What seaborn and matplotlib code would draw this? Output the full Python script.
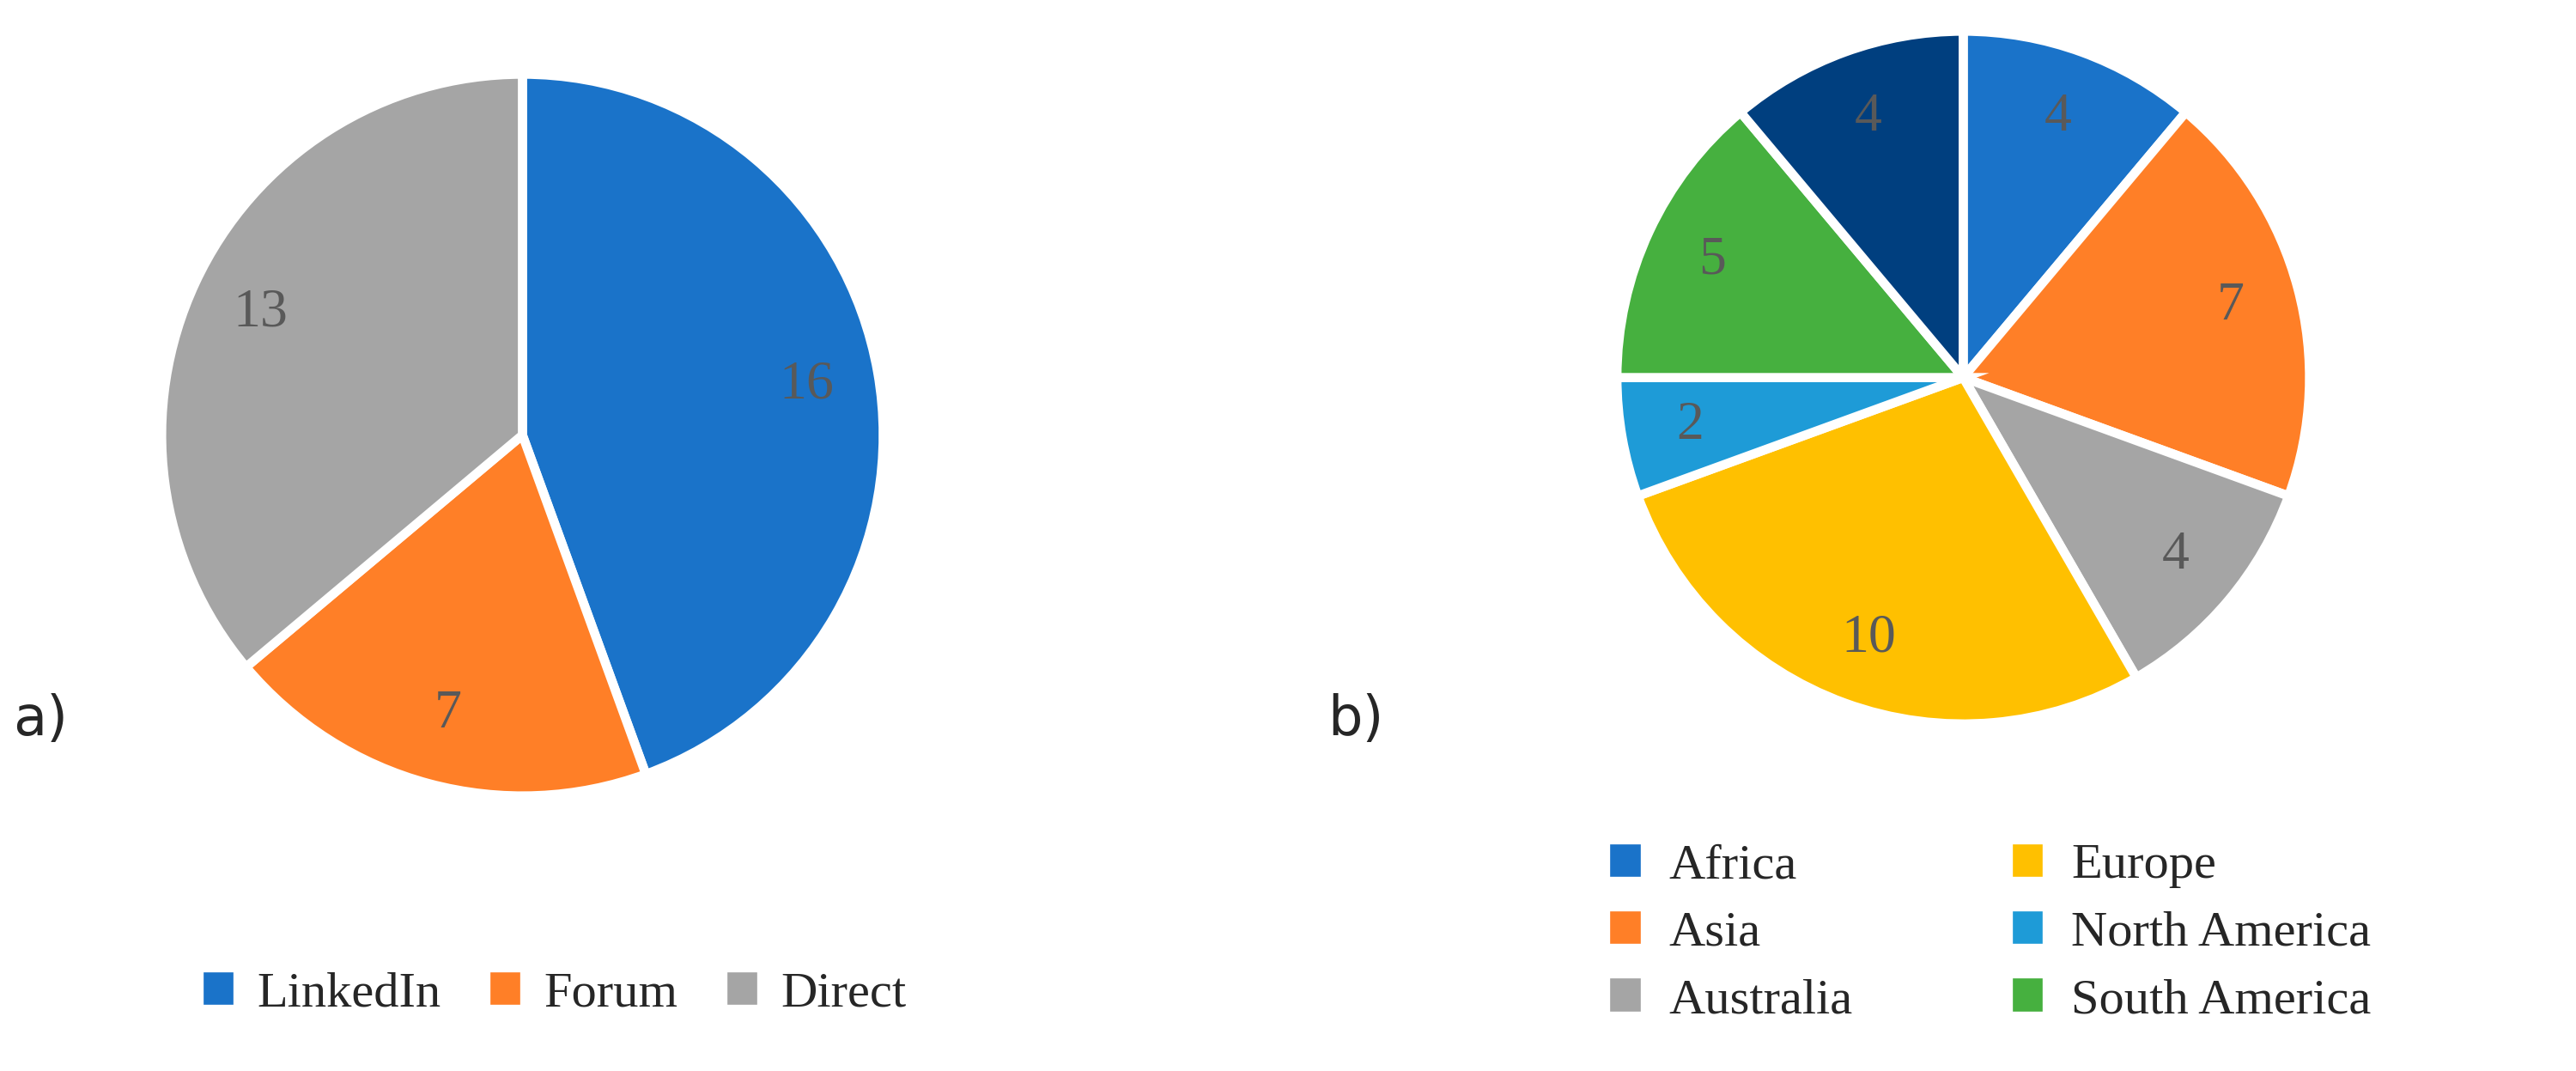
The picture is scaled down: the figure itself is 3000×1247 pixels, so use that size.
import matplotlib
matplotlib.use("Agg")
import matplotlib.pyplot as plt
from matplotlib.patches import Patch
import seaborn as sns

# data
src_labels = ["LinkedIn", "Forum", "Direct"]
src_values = [16, 7, 13]
src_colors = ["#1A73C9", "#FF7F27", "#A5A5A5"]

reg_labels = ["Africa", "Asia", "Australia", "Europe", "North America", "South America", "Other"]
reg_values = [4, 7, 4, 10, 2, 5, 4]
reg_colors = ["#1A73C9", "#FF7F27", "#A5A5A5", "#FFC000", "#1E9BD7", "#46B03F", "#003F7F"]

sns.set_theme(style="white")
serif = ["Liberation Serif", "DejaVu Serif"]

W, H = 1568, 652
fig = plt.figure(figsize=(15.68, 6.52), dpi=3000 / 15.68)


def pie_axes(cx, cy, r):
    return fig.add_axes([(cx - r) / W, (H - cy - r) / H, 2 * r / W, 2 * r / H])


def draw_pie(ax, values, colors):
    wedges, texts = ax.pie(values, colors=colors, labels=[str(v) for v in values],
                           startangle=90, counterclock=False, labeldistance=0.8,
                           wedgeprops=dict(edgecolor="white", linewidth=4),
                           textprops=dict(fontsize=24, color="#595959", family=serif))
    for t in texts:
        t.set_ha("center")
        t.set_va("center")
    ax.set_xlim(-1.02, 1.02)
    ax.set_ylim(-1.02, 1.02)
    ax.set_aspect("equal")
    ax.axis("off")
    return wedges


ax_a = pie_axes(318, 265, 224)
draw_pie(ax_a, src_values, src_colors)
ax_b = pie_axes(1195, 230, 215)
draw_pie(ax_b, reg_values, reg_colors)

fig.text(8 / W, 1 - 438 / H, "a)", fontsize=24, va="center", ha="left", family="DejaVu Sans")
fig.text(808 / W, 1 - 438 / H, "b)", fontsize=24, va="center", ha="left", family="DejaVu Sans")

handles_a = [Patch(color=c, label=l) for c, l in zip(src_colors, src_labels)]
fig.legend(handles=handles_a, loc="center", bbox_to_anchor=(338 / W, 1 - 605 / H), ncol=3,
           frameon=False, prop=dict(family=serif, size=22), handlelength=0.55, handleheight=0.55,
           handletextpad=0.5, columnspacing=1.0)

handles_b = [Patch(color=c, label=l) for c, l in zip(reg_colors[:6], reg_labels[:6])]
fig.legend(handles=handles_b, loc="center", bbox_to_anchor=(1212 / W, 1 - 568 / H), ncol=2,
           frameon=False, prop=dict(family=serif, size=22), handlelength=0.55, handleheight=0.55,
           handletextpad=0.6, columnspacing=3.2, labelspacing=0.45)

fig.savefig("out.png", dpi=3000 / 15.68, facecolor="white")
